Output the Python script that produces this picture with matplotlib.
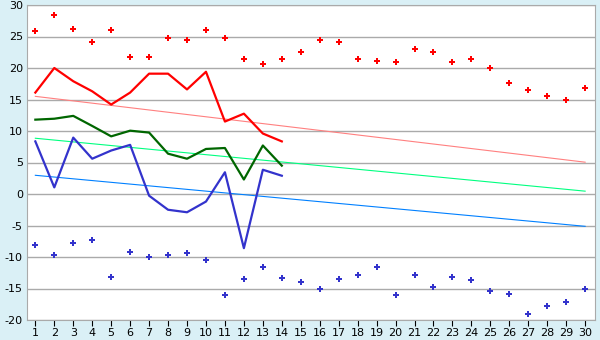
import matplotlib
matplotlib.use("Agg")
import matplotlib.pyplot as plt

plt.rcParams["axes.unicode_minus"] = False

days = list(range(1, 31))
line_days = list(range(1, 15))

maxPoints = [25.8, 28.4, 26.2, 24.2, 26.0, 21.8, 21.8, 24.8, 24.4, 26.1,
             24.7, 21.4, 20.6, 21.4, 22.6, 24.4, 24.1, 21.4, 21.1, 20.9,
             23.0, 22.6, 20.9, 21.4, 20.0, 17.6, 16.5, 15.5, 15.0, 16.9]
minPoints = [-8.1, -9.7, -7.8, -7.35, -13.1, -9.25, -10.05, -9.7, -9.4, -10.5,
             -16.1, -13.5, -11.6, -13.4, -14.0, -15.1, -13.5, -12.9, -11.6, -16.1,
             -12.9, -14.8, -13.2, -13.7, -15.4, -15.9, -19.1, -17.7, -17.2, -15.0]

maxLine = [16.1, 20.0, 17.9, 16.3, 14.2, 16.1, 19.1, 19.1, 16.6, 19.4,
           11.5, 12.75, 9.6, 8.35]
avgLine = [11.8, 11.95, 12.4, 10.8, 9.15, 10.05, 9.75, 6.4, 5.6, 7.15,
           7.3, 2.3, 7.7, 4.5]
minLine = [8.35, 1.05, 8.95, 5.6, 6.9, 7.8, -0.27, -2.5, -2.9, -1.2,
           3.45, -8.6, 3.85, 2.9]

# trend lines: value at day 1 and day 30
trendDays = [1, 30]
maxTrend = [15.5, 5.05]
avgTrend = [8.85, 0.45]
minTrend = [2.97, -5.13]

bg = "#daf0f6"
fig = plt.figure(figsize=(6, 3.4), dpi=100, facecolor=bg)
ax = fig.add_axes([27 / 600, 20 / 340, 568 / 600, 315 / 340])
ax.set_facecolor("white")

ax.set_xlim(0.56, 30.52)
ax.set_ylim(-20, 30)
ax.set_yticks(range(-20, 31, 5))
ax.set_xticks(days)
ax.grid(axis="y", color="#aaaaaa", lw=1)
ax.set_axisbelow(True)
for s in ax.spines.values():
    s.set_color("#aaaaaa")

ax.plot(trendDays, maxTrend, color="#ff8080", lw=0.8)
ax.plot(trendDays, avgTrend, color="#00ff80", lw=0.8)
ax.plot(trendDays, minTrend, color="#0080ff", lw=0.8)

ax.plot(line_days, maxLine, color="#ff0000", lw=1.6)
ax.plot(line_days, avgLine, color="#006600", lw=1.6)
ax.plot(line_days, minLine, color="#3333cc", lw=1.6)

ax.plot(days, maxPoints, ls="none", marker="P", ms=5, color="#ff0000", mew=0)
ax.plot(days, minPoints, ls="none", marker="P", ms=5, color="#3333cc", mew=0)

ax.tick_params(axis="y", length=0, pad=3, labelsize=8, colors="black")
ax.tick_params(axis="x", length=4, pad=2, labelsize=8, color="black")

fig.savefig("out.png", dpi=100, facecolor=bg)
